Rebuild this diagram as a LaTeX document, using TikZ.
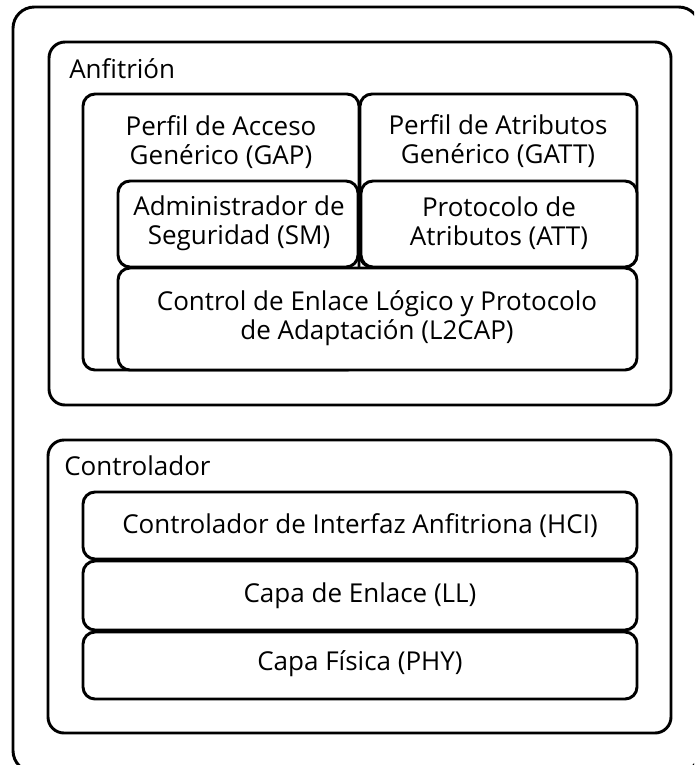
\documentclass[tikz,border=0pt]{standalone}
\usepackage{fontspec}
\setmainfont{Open Sans}
\usetikzlibrary{fit,positioning}

\tikzset{
  group/.style={draw, line width=2.2pt, rounded corners=12pt, inner sep=0pt},
  layer/.style={draw, fill=white, line width=2.2pt, rounded corners=9pt, inner sep=0pt},
  title/.style={anchor=base west, inner sep=0pt},
  caption/.style={align=center, inner sep=0pt}
}

\begin{document}
\begin{tikzpicture}[x=0.75pt, y=-0.75pt, font=\fontsize{19.5pt}{22pt}\selectfont]
\useasboundingbox (0,0) rectangle (694,765);
\clip (0,0) rectangle (694,765);

% dispositivo completo
\node[group, rounded corners=16pt, fit={(13,7) (700,772)}] (device) {};

% anfitrion
\node[group, fit={(49,42) (671,405)}] (host) {};
\node[title] (hosttitle) at (69,78) {Anfitrión};
\node[layer, fit={(83,94) (359,370)}] (gap) {};
\node[caption] (gaptext) at (221,142) {Perfil de Acceso\\Genérico (GAP)};
\node[layer, fit={(360,94) (637,267)}] (gatt) {};
\node[caption] (gatttext) at (498,141) {Perfil de Atributos\\Genérico (GATT)};
\node[layer, fit={(118,181) (358,267)}] (sm) {};
\node[caption] (smtext) at (239,223) {Administrador de\\Seguridad (SM)};
\node[layer, fit={(361,181) (637,267)}] (att) {};
\node[caption] (atttext) at (499,223) {Protocolo de\\Atributos (ATT)};
\node[layer, fit={(118,268) (637,370)}] (l2cap) {};
\node[caption] (l2captext) at (377,318) {Control de Enlace Lógico y Protocolo\\de Adaptación (L2CAP)};

% controlador
\node[group, fit={(48,440) (671,733)}] (ctrl) {};
\node[title] (ctrltitle) at (64,475) {Controlador};
\node[layer, fit={(83,492) (637,559)}] (hci) {};
\node[caption] (hcitext) at (360,526) {Controlador de Interfaz Anfitriona (HCI)};
\node[layer, fit={(83,561) (637,630)}] (ll) {};
\node[caption] (lltext) at (360,596) {Capa de Enlace (LL)};
\node[layer, fit={(83,632) (637,699)}] (phy) {};
\node[caption] (phytext) at (360,664) {Capa Física (PHY)};
\end{tikzpicture}
\end{document}
